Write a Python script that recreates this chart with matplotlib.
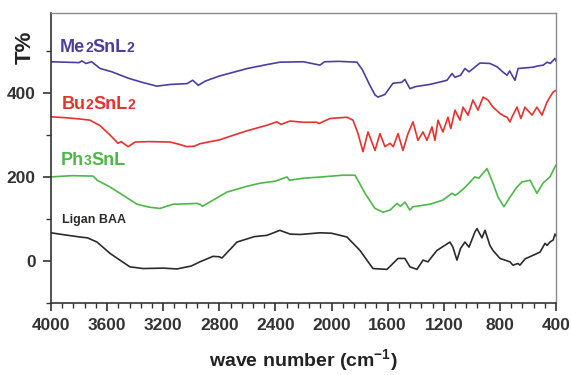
import numpy as np
import matplotlib
matplotlib.use("Agg")
import matplotlib.pyplot as plt
from matplotlib.ticker import MultipleLocator
from matplotlib.offsetbox import TextArea, HPacker, AnnotationBbox

plt.rcParams['font.family'] = ['Liberation Sans', 'DejaVu Sans']
plt.rcParams['mathtext.fontset'] = 'custom'
plt.rcParams['mathtext.rm'] = 'Liberation Sans:bold'
plt.rcParams['mathtext.bf'] = 'Liberation Sans:bold'

# spectres (nombre d'onde en cm-1, T%)
wn_me = [4000, 3900, 3800, 3780, 3750, 3710, 3650, 3565, 3450, 3350, 3245, 3150,
         3030, 2990, 2950, 2900, 2800, 2600, 2450, 2368, 2200, 2083, 2050, 1950,
         1819, 1780, 1730, 1690, 1669, 1620, 1562, 1500, 1477, 1441, 1400, 1300,
         1200, 1177, 1141, 1120, 1080, 1049, 1020, 942, 871, 820, 780, 749, 730,
         710, 692, 670, 600, 564, 530, 490, 464, 440, 407, 400]
t_me = [474, 473, 472, 476, 470, 474, 458, 450, 435, 425, 416, 420,
        422, 430, 418, 428, 440, 458, 468, 473, 474, 466, 474, 475,
        473, 455, 420, 395, 390, 396, 423, 425, 432, 410, 415, 420,
        428, 430, 446, 437, 442, 458, 450, 471, 470, 462, 450, 442, 452,
        440, 430, 458, 460, 461, 464, 466, 473, 470, 482, 476]

wn_bu = [4000, 3900, 3800, 3722, 3650, 3580, 3522, 3500, 3450, 3400, 3300, 3152,
         3080, 3030, 2980, 2938, 2850, 2800, 2702, 2600, 2460, 2390, 2360, 2296,
         2200, 2104, 2090, 2011, 1890, 1847, 1811, 1776, 1740, 1690, 1655, 1619,
         1583, 1560, 1526, 1491, 1455, 1419, 1384, 1348, 1320, 1284, 1263, 1241,
         1206, 1170, 1150, 1120, 1084, 1063, 1027, 992, 956, 920, 885, 849, 799,
         770, 749, 728, 710, 678, 650, 621, 571, 536, 500, 464, 443, 420, 400]
t_bu = [343, 341, 338, 335, 322, 300, 280, 284, 272, 283, 284, 283,
        277, 272, 273, 279, 285, 288, 299, 310, 323, 331, 325, 333,
        330, 330, 327, 339, 342, 335, 303, 260, 307, 263, 303, 272,
        280, 272, 303, 263, 303, 331, 287, 307, 287, 319, 287, 335,
        307, 342, 315, 359, 335, 366, 347, 383, 359, 390, 383, 366, 351,
        345, 342, 331, 345, 366, 339, 366, 347, 366, 347, 378, 390, 402, 406]

wn_ph = [4000, 3850, 3700, 3670, 3579, 3480, 3387, 3300, 3223, 3130, 3030, 2960,
         2938, 2920, 2880, 2745, 2600, 2510, 2400, 2318, 2300, 2200, 2068, 1925,
         1833, 1812, 1762, 1690, 1633, 1583, 1533, 1510, 1477, 1441, 1420, 1298,
         1206, 1141, 1120, 1100, 1049, 978, 950, 892, 849, 813, 771, 728, 678,
         643, 585, 536, 493, 443, 407, 400]
t_ph = [200, 203, 202, 192, 176, 155, 135, 128, 125, 135, 136, 137,
        135, 130, 138, 164, 178, 185, 190, 200, 192, 197, 200, 204,
        204, 192, 161, 125, 116, 121, 137, 130, 140, 121, 129, 135,
        145, 161, 156, 160, 175, 200, 197, 220, 185, 152, 129, 152, 176,
        188, 192, 161, 185, 200, 224, 228]

wn_lig = [4000, 3900, 3793, 3740, 3672, 3579, 3500, 3437, 3344, 3200, 3102, 3000,
          2938, 2845, 2800, 2781, 2674, 2550, 2460, 2368, 2353, 2296, 2225, 2083,
          2000, 1890, 1797, 1705, 1605, 1526, 1477, 1441, 1391, 1348, 1313, 1249,
          1156, 1135, 1106, 1080, 1049, 1020, 978, 963, 928, 906, 871, 849, 799,
          728, 707, 671, 657, 620, 514, 478, 464, 443, 420, 407, 400]
t_lig = [67, 62, 57, 55, 45, 18, 0, -14, -18, -17, -19, -12,
         -2, 11, 10, 7, 45, 58, 61, 73, 71, 64, 63, 67,
         66, 57, 25, -18, -20, 6, 6, -14, -20, 2, -2, 25,
         45, 33, 2, 30, 45, 33, 69, 77, 55, 73, 37, 25, 6,
         -2, -10, -6, -10, 5, 21, 42, 37, 45, 50, 64, 60]

c_me = '#4a3f9f'
c_bu = '#e6322f'
c_ph = '#4db848'
c_lig = '#2e2a2a'

fig = plt.figure(figsize=(5.71, 3.75), dpi=100)
ax = fig.add_axes([0.0893, 0.192, 0.8844, 0.7733])

ax.plot(wn_me, t_me, color=c_me, lw=1.2)
ax.plot(wn_bu, t_bu, color=c_bu, lw=1.2)
ax.plot(wn_ph, t_ph, color=c_ph, lw=1.2)
ax.plot(wn_lig, t_lig, color=c_lig, lw=1.2)

ax.set_xlim(4000, 400)
ax.set_ylim(-100, 590)
ax.xaxis.set_major_locator(MultipleLocator(400))
ax.xaxis.set_minor_locator(MultipleLocator(80))
ax.yaxis.set_major_locator(MultipleLocator(200))
ax.yaxis.set_minor_locator(MultipleLocator(100))
ax.tick_params(which='major', direction='out', length=6, width=1.2, color='#333333')
ax.tick_params(which='minor', direction='out', length=3.5, width=1.0, color='#333333')
ax.tick_params(axis='both', labelsize=12.5, labelcolor='#333333', pad=5)
for lab in ax.get_xticklabels() + ax.get_yticklabels():
    lab.set_fontweight('bold')

for s in ['left', 'bottom']:
    ax.spines[s].set_color('#333333')
    ax.spines[s].set_linewidth(1.2)
for s in ['top', 'right']:
    ax.spines[s].set_color('#8a8a8a')
    ax.spines[s].set_linewidth(1.0)

ax.set_xlabel(r'wave number (cm$^{\mathbf{-1}}$)', fontsize=14, fontweight='bold',
              color='#222222', labelpad=10)
fig.text(0.044, 0.875, 'T%', rotation=90, fontsize=16, fontweight='bold',
         color='#222222', ha='center', va='center')


# étiquettes des courbes (chiffres plus petits)
def label(parts, x, y, color):
    boxes = [TextArea(t, textprops=dict(color=color, fontsize=s, fontweight='bold'))
             for t, s in parts]
    pack = HPacker(children=boxes, align='baseline', pad=0, sep=0)
    ab = AnnotationBbox(pack, (x, y), xycoords='data', box_alignment=(0, 0),
                        frameon=False, pad=0)
    ax.add_artist(ab)


label([('Me', 13), ('2', 10), ('SnL', 13), ('2', 10)], 3936, 488, c_me)
label([('Bu', 13), ('2', 10), ('SnL', 13), ('2', 10)], 3922, 352, c_bu)
label([('Ph', 13), ('3', 10), ('SnL', 13)], 3929, 218, c_ph)
label([('Ligan BAA', 9)], 3922, 83, c_lig)

fig.savefig('out.png', dpi=100)
